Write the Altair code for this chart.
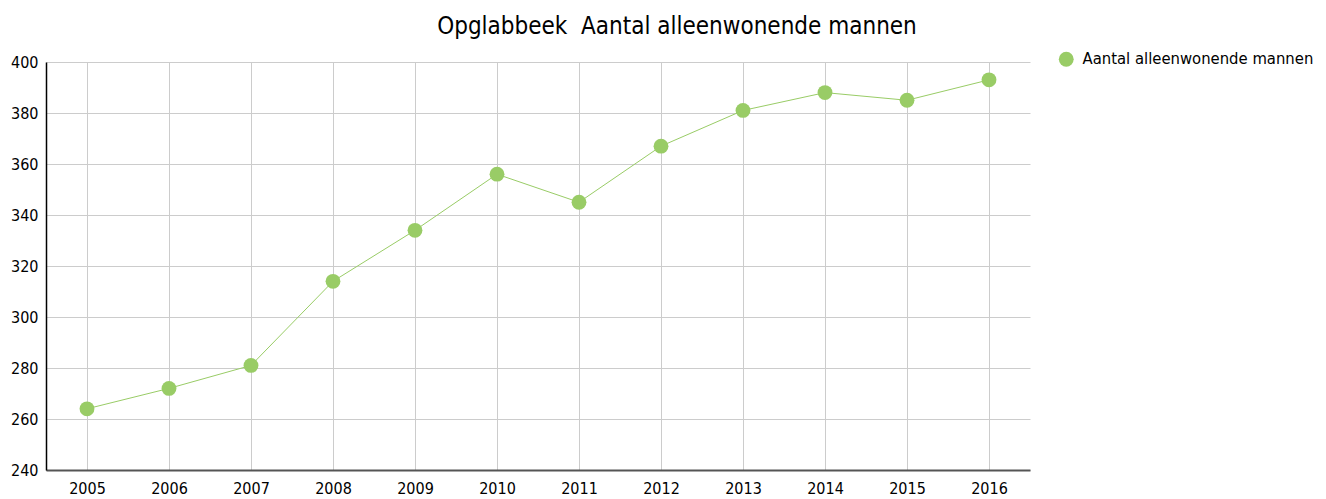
import altair as alt
import pandas as pd

years = ["2005", "2006", "2007", "2008", "2009", "2010", "2011", "2012", "2013", "2014", "2015", "2016"]
values = [264, 272, 281, 314, 334, 356, 345, 367, 381, 388, 385, 393]
series = ["Aantal alleenwonende mannen"] * len(years)

df = pd.DataFrame({"jaar": years, "waarde": values, "reeks": series})

FONT = "DejaVu Sans Condensed"
GREEN = "#99cc66"

base = alt.Chart(df).encode(
    x=alt.X("jaar:N", sort=years, title=None,
            scale=alt.Scale(paddingInner=1, paddingOuter=0.5),
            axis=alt.Axis(labelAngle=0, labelFontSize=16, labelFont=FONT, labelColor="#000000",
                          labelPadding=10, ticks=False, domainColor="#555555", domainWidth=2,
                          grid=True, gridColor="#cccccc", gridWidth=1)),
    y=alt.Y("waarde:Q", title=None,
            scale=alt.Scale(domain=[240, 400], nice=False, zero=False),
            axis=alt.Axis(values=list(range(240, 401, 20)), labelFontSize=16, labelFont=FONT,
                          labelColor="#000000", labelPadding=8, ticks=False, domain=True,
                          domainColor="#000000", domainWidth=1.5,
                          grid=True, gridColor="#cccccc", gridWidth=1)),
    color=alt.Color("reeks:N", scale=alt.Scale(range=[GREEN]),
                    legend=alt.Legend(title=None, orient="none", legendX=1012, legendY=-11,
                                      labelFont=FONT, labelFontSize=16.5, labelColor="#000000",
                                      symbolType="circle", symbolSize=220, symbolStrokeWidth=0,
                                      labelOffset=8, labelLimit=400)),
)

line = base.mark_line(strokeWidth=1)
points = base.mark_circle(size=220, opacity=1)

chart = (line + points).properties(
    width=984, height=408,
    title=alt.TitleParams("Opglabbeek\u00a0\u00a0Aantal alleenwonende mannen", font=FONT, fontSize=24,
                          fontWeight="normal", color="#000000", anchor="middle", dx=139, offset=12),
    autosize=alt.AutoSizeParams(type="none"),
    padding={"left": 38, "top": 54, "right": 288, "bottom": 30},
).configure_view(stroke=None)

chart.save("out.html", embed_options={"renderer": "svg", "actions": False})
